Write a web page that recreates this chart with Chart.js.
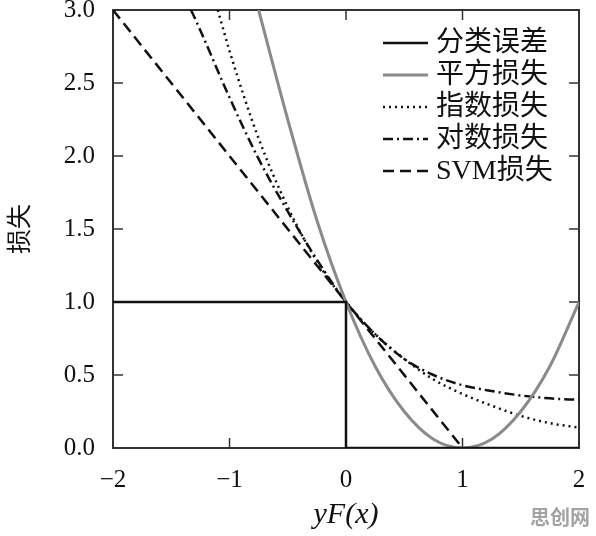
<!DOCTYPE html>
<html lang="zh">
<head>
<meta charset="UTF-8">
<title>损失函数</title>
<script src="https://cdn.jsdelivr.net/npm/chart.js"></script>
<style>
	body { margin: 0; background: #fff; }
	canvas { display: block; }
</style>
</head>
<body>
<canvas id="lossChart" width="596" height="536"></canvas>
<script>
	// values
	const zeroOneX = [-2, 0, 0, 2];
	const zeroOneY = [1, 1, 0, 0];

	const squareX = [-0.75, -0.5, -0.25, 0, 0.25, 0.5, 0.75, 1, 1.25, 1.5, 1.75, 2];
	const squareY = [3.0, 2.25, 1.56, 1.0, 0.56, 0.25, 0.06, 0, 0.06, 0.25, 0.56, 1.0];

	const expX = [-1.1, -1, -0.75, -0.5, -0.25, 0, 0.25, 0.5, 0.75, 1, 1.25, 1.5, 1.75, 2];
	const expY = [3.0, 2.72, 2.12, 1.65, 1.28, 1.0, 0.78, 0.61, 0.47, 0.37, 0.29, 0.22, 0.17, 0.14];

	const logX = [-1.33, -1.25, -1, -0.75, -0.5, -0.25, 0, 0.25, 0.5, 0.75, 1, 1.25, 1.5, 1.75, 2];
	const logY = [3.0, 2.86, 2.40, 1.98, 1.62, 1.29, 1.0, 0.78, 0.61, 0.50, 0.43, 0.39, 0.36, 0.34, 0.33];

	const svmX = [-2, 1];
	const svmY = [3, 0];

	const seriesNames = ["分类误差", "平方损失", "指数损失", "对数损失", "SVM损失"];
	const xTicks = [-2, -1, 0, 1, 2];
	const yTicks = [0, 0.5, 1, 1.5, 2, 2.5, 3];

	const serif = '"Liberation Serif", "Noto Sans CJK SC", serif';

	function pts(xs, ys) {
		return xs.map((x, i) => ({ x: x, y: ys[i] }));
	}

	const datasets = [
		{ label: seriesNames[0], data: pts(zeroOneX, zeroOneY), borderColor: "#111", borderWidth: 2.5, borderDash: [], tension: 0 },
		{ label: seriesNames[1], data: pts(squareX, squareY), borderColor: "#8a8a8a", borderWidth: 3, borderDash: [], cubicInterpolationMode: "monotone" },
		{ label: seriesNames[2], data: pts(expX, expY), borderColor: "#111", borderWidth: 2.5, borderDash: [2, 4], cubicInterpolationMode: "monotone" },
		{ label: seriesNames[3], data: pts(logX, logY), borderColor: "#111", borderWidth: 2.5, borderDash: [10, 4, 2, 4], cubicInterpolationMode: "monotone" },
		{ label: seriesNames[4], data: pts(svmX, svmY), borderColor: "#111", borderWidth: 2.5, borderDash: [11, 6], tension: 0 }
	];
	datasets.forEach(d => { d.pointRadius = 0; d.fill = false; });

	// frame, inward ticks, legend, watermark
	const decorations = {
		id: "decorations",
		beforeDatasetsDraw(chart) {
			const ctx = chart.ctx;
			const a = chart.chartArea;
			const xs = chart.scales.x, ys = chart.scales.y;
			ctx.save();
			ctx.strokeStyle = "#333";
			ctx.lineWidth = 2;
			ctx.strokeRect(a.left, a.top, a.right - a.left, a.bottom - a.top);
			ctx.lineWidth = 1.5;
			ctx.beginPath();
			xTicks.forEach(v => {
				const px = xs.getPixelForValue(v);
				ctx.moveTo(px, a.bottom); ctx.lineTo(px, a.bottom - 10);
				ctx.moveTo(px, a.top); ctx.lineTo(px, a.top + 10);
			});
			yTicks.forEach(v => {
				const py = ys.getPixelForValue(v);
				ctx.moveTo(a.left, py); ctx.lineTo(a.left + 10, py);
				ctx.moveTo(a.right, py); ctx.lineTo(a.right - 10, py);
			});
			ctx.stroke();
			ctx.restore();
		},
		afterDraw(chart) {
			const ctx = chart.ctx;
			const a = chart.chartArea;
			const lx = a.right - 196;
			ctx.save();
			chart.data.datasets.forEach((d, i) => {
				const y = a.top + 33 + i * 32;
				ctx.strokeStyle = d.borderColor;
				ctx.lineWidth = d.borderWidth;
				ctx.setLineDash(d.borderDash);
				ctx.beginPath();
				ctx.moveTo(lx, y);
				ctx.lineTo(lx + 45, y);
				ctx.stroke();
				ctx.setLineDash([]);
				ctx.fillStyle = "#111";
				ctx.font = "28px " + serif;
				ctx.textBaseline = "middle";
				ctx.textAlign = "left";
				ctx.fillText(d.label, lx + 53, y + 1);
			});
			ctx.fillStyle = "#a3a3a3";
			ctx.font = "bold 20px 'Noto Sans CJK SC', sans-serif";
			ctx.textAlign = "center";
			ctx.fillText("思创网", 560, 517);
			ctx.restore();
		}
	};

	const lossChart = new Chart(document.getElementById("lossChart"), {
		type: "line",
		data: { datasets: datasets },
		options: {
			responsive: false,
			animation: false,
			devicePixelRatio: 1,
			layout: { padding: { top: 10, right: 17, left: 0, bottom: 0 } },
			plugins: { legend: { display: false }, tooltip: { enabled: false } },
			scales: {
				x: {
					type: "linear",
					min: -2,
					max: 2,
					afterBuildTicks: s => { s.ticks = xTicks.map(v => ({ value: v })); },
					afterFit: s => { s.height = 88; s.paddingLeft = 0; s.paddingRight = 0; },
					grid: { display: false },
					border: { display: false },
					ticks: {
						color: "#111",
						padding: 9,
						font: { family: serif, size: 25 },
						callback: v => (v < 0 ? "\u2212" + Math.abs(v) : String(v))
					},
					title: {
						display: true,
						text: "yF(x)",
						color: "#111",
						padding: { top: 0, bottom: 3 },
						font: { family: serif, size: 30, style: "italic" }
					}
				},
				y: {
					type: "linear",
					min: 0,
					max: 3,
					afterBuildTicks: s => { s.ticks = yTicks.map(v => ({ value: v })); },
					afterFit: s => { s.width = 113; s.paddingTop = 0; s.paddingBottom = 0; },
					grid: { display: false },
					border: { display: false },
					ticks: {
						color: "#111",
						padding: 10,
						font: { family: serif, size: 25 },
						callback: v => Number(v).toFixed(1)
					},
					title: {
						display: true,
						text: "损失",
						color: "#111",
						padding: { top: 6, bottom: 0 },
						font: { family: serif, size: 25 }
					}
				}
			}
		},
		plugins: [decorations]
	});
</script>
</body>
</html>
